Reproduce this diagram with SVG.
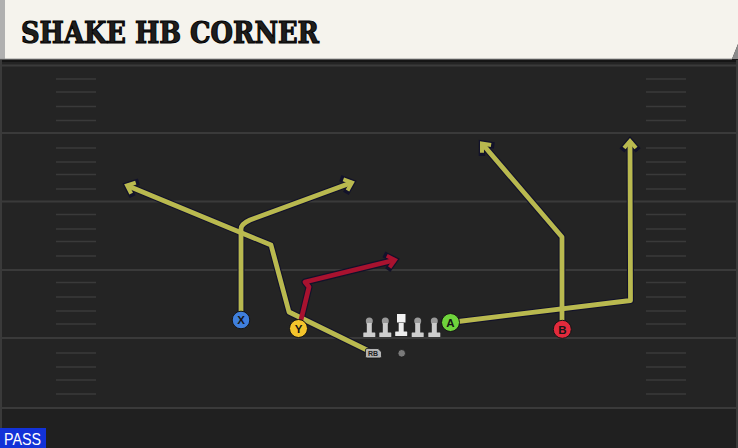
<svg xmlns="http://www.w3.org/2000/svg" width="738" height="448" viewBox="0 0 738 448">
<defs>
<style>
.yard{stroke:#3a3a3a;stroke-width:2}
.hash{stroke:#3a3a3a;stroke-width:1.5}
.rout{fill:none;stroke:#12122a;stroke-width:7;stroke-linejoin:round;stroke-linecap:butt}
.olive{fill:none;stroke:#b9b94f;stroke-width:4.8;stroke-linejoin:round;stroke-linecap:butt}
.red{fill:none;stroke:#a8122f;stroke-width:4.8;stroke-linejoin:round;stroke-linecap:butt}
.lbl{font-family:"Liberation Sans",Arial,sans-serif;font-weight:bold;font-size:11.5px;fill:#151515;text-anchor:middle}
.ol{stroke:#151515;stroke-width:1}
.lm{fill:#cdcdcd}
.head{fill:#9a9a9a}
</style>
<marker id="ahO" markerUnits="userSpaceOnUse" orient="auto" markerWidth="24" markerHeight="24" refX="0" refY="0" viewBox="-12 -12 24 24" overflow="visible">
<path d="M-7,-6 L0,0 L-7,6" fill="none" stroke="#12122a" stroke-width="6.5" stroke-linejoin="miter" stroke-linecap="square"/>
</marker>
<marker id="ahY" markerUnits="userSpaceOnUse" orient="auto" markerWidth="24" markerHeight="24" refX="0" refY="0" viewBox="-12 -12 24 24" overflow="visible">
<path d="M-7,-6 L0,0 L-7,6" fill="none" stroke="#b9b94f" stroke-width="4" stroke-linejoin="miter" stroke-linecap="butt"/>
</marker>
<marker id="ahR" markerUnits="userSpaceOnUse" orient="auto" markerWidth="24" markerHeight="24" refX="0" refY="0" viewBox="-12 -12 24 24" overflow="visible">
<path d="M-7,-6 L0,0 L-7,6" fill="none" stroke="#a8122f" stroke-width="4" stroke-linejoin="miter" stroke-linecap="butt"/>
</marker>
<g id="lineman">
<circle cx="0" cy="-1" r="3.5" class="head"/>
<rect x="-2.5" y="1" width="5" height="10" class="lm"/>
<rect x="-6" y="10.5" width="12" height="4.5" rx="0.5" class="lm"/>
</g>
</defs>

<!-- field -->
<rect x="0" y="0" width="738" height="448" fill="#242424"/>
<rect x="0" y="408" width="738" height="40" fill="#202020"/>
<rect x="0" y="59" width="738" height="3" fill="#151515"/>
<line x1="1" y1="60" x2="1" y2="448" stroke="#3a3a3a" stroke-width="2"/>
<line x1="737" y1="60" x2="737" y2="448" stroke="#3a3a3a" stroke-width="2"/>

<g id="yardlines">
<line class="yard" x1="0" y1="65.5" x2="738" y2="65.5"/>
<line class="yard" x1="0" y1="133" x2="738" y2="133"/>
<line class="yard" x1="0" y1="201.5" x2="738" y2="201.5"/>
<line class="yard" x1="0" y1="270" x2="738" y2="270"/>
<line class="yard" x1="0" y1="338" x2="738" y2="338"/>
<line class="yard" x1="0" y1="408" x2="738" y2="408"/>
</g>
<g id="hashes-left">
<line class="hash" x1="56" x2="96" y1="79" y2="79"/>
<line class="hash" x1="56" x2="96" y1="92" y2="92"/>
<line class="hash" x1="56" x2="96" y1="106.5" y2="106.5"/>
<line class="hash" x1="56" x2="96" y1="120.5" y2="120.5"/>
<line class="hash" x1="56" x2="96" y1="148" y2="148"/>
<line class="hash" x1="56" x2="96" y1="162" y2="162"/>
<line class="hash" x1="56" x2="96" y1="174.5" y2="174.5"/>
<line class="hash" x1="56" x2="96" y1="189" y2="189"/>
<line class="hash" x1="56" x2="96" y1="214.5" y2="214.5"/>
<line class="hash" x1="56" x2="96" y1="229" y2="229"/>
<line class="hash" x1="56" x2="96" y1="241.5" y2="241.5"/>
<line class="hash" x1="56" x2="96" y1="256" y2="256"/>
<line class="hash" x1="56" x2="96" y1="282.5" y2="282.5"/>
<line class="hash" x1="56" x2="96" y1="297" y2="297"/>
<line class="hash" x1="56" x2="96" y1="311" y2="311"/>
<line class="hash" x1="56" x2="96" y1="324" y2="324"/>
<line class="hash" x1="56" x2="96" y1="353" y2="353"/>
<line class="hash" x1="56" x2="96" y1="367" y2="367"/>
<line class="hash" x1="56" x2="96" y1="380" y2="380"/>
<line class="hash" x1="56" x2="96" y1="394" y2="394"/>
</g>
<g id="hashes-right">
<line class="hash" x1="646" x2="686" y1="79" y2="79"/>
<line class="hash" x1="646" x2="686" y1="92" y2="92"/>
<line class="hash" x1="646" x2="686" y1="106.5" y2="106.5"/>
<line class="hash" x1="646" x2="686" y1="120.5" y2="120.5"/>
<line class="hash" x1="646" x2="686" y1="148" y2="148"/>
<line class="hash" x1="646" x2="686" y1="162" y2="162"/>
<line class="hash" x1="646" x2="686" y1="174.5" y2="174.5"/>
<line class="hash" x1="646" x2="686" y1="189" y2="189"/>
<line class="hash" x1="646" x2="686" y1="214.5" y2="214.5"/>
<line class="hash" x1="646" x2="686" y1="229" y2="229"/>
<line class="hash" x1="646" x2="686" y1="241.5" y2="241.5"/>
<line class="hash" x1="646" x2="686" y1="256" y2="256"/>
<line class="hash" x1="646" x2="686" y1="282.5" y2="282.5"/>
<line class="hash" x1="646" x2="686" y1="297" y2="297"/>
<line class="hash" x1="646" x2="686" y1="311" y2="311"/>
<line class="hash" x1="646" x2="686" y1="324" y2="324"/>
<line class="hash" x1="646" x2="686" y1="353" y2="353"/>
<line class="hash" x1="646" x2="686" y1="367" y2="367"/>
<line class="hash" x1="646" x2="686" y1="380" y2="380"/>
<line class="hash" x1="646" x2="686" y1="394" y2="394"/>
</g>

<!-- header -->
<g id="header">
<polygon points="0,0 738,0 738,44 732,59 0,59" fill="#f5f3ed"/>
<polygon points="738,44 738,59 732,59" fill="#8a8a8a"/>
<rect x="0" y="0" width="5" height="59" fill="#b0b0b0"/>
<line x1="0" y1="59" x2="732" y2="59" stroke="#9a9a9a" stroke-width="1"/>
<text x="21" y="43" font-family="'DejaVu Serif Condensed','DejaVu Serif',serif" font-weight="bold" font-size="29" fill="#1e1e1e" stroke="#000" stroke-width="1" textLength="298" lengthAdjust="spacingAndGlyphs">SHAKE HB CORNER</text>
</g>

<!-- connectors / routes -->
<g id="routes">
<path class="rout" marker-end="url(#ahO)" d="M241,320 L241,229 Q241,224 250,220 L352,182.5"/>
<path class="rout" marker-end="url(#ahO)" d="M373,353 L289,312 L271,245 L127,185.5"/>
<path class="rout" marker-end="url(#ahO)" d="M450,322.5 L630.5,300.5 L630,141"/>
<path class="rout" marker-end="url(#ahO)" d="M562,329 L562,237 L482,143.5"/>
<path class="rout" marker-end="url(#ahO)" d="M299,328 L309,287 L305,282 L395,260"/>
<path class="olive" marker-end="url(#ahY)" d="M241,320 L241,229 Q241,224 250,220 L352,182.5"/>
<path class="olive" marker-end="url(#ahY)" d="M373,353 L289,312 L271,245 L127,185.5"/>
<path class="olive" marker-end="url(#ahY)" d="M450,322.5 L630.5,300.5 L630,141"/>
<path class="olive" marker-end="url(#ahY)" d="M562,329 L562,237 L482,143.5"/>
<path class="red" marker-end="url(#ahR)" d="M299,328 L309,287 L305,282 L395,260"/>
</g>

<!-- players -->
<g id="player-X">
<circle cx="241" cy="320" r="8.8" fill="#3f7fdc" class="ol"/>
<text x="241" y="324.2" class="lbl">X</text>
</g>
<g id="player-Y">
<circle cx="298.5" cy="328.5" r="9" fill="#f3c42c" class="ol"/>
<text x="298.5" y="332.7" class="lbl">Y</text>
</g>
<g id="lt"><use href="#lineman" x="369.3" y="322"/></g>
<g id="lg"><use href="#lineman" x="385.3" y="322"/></g>
<g id="center">
<rect x="397" y="314" width="8.5" height="8.5" fill="#f2f2f2"/>
<rect x="398.7" y="323" width="5" height="9" fill="#ececec"/>
<rect x="395.2" y="331.5" width="12" height="4.5" rx="0.5" fill="#ececec"/>
</g>
<g id="rg"><use href="#lineman" x="417.7" y="322"/></g>
<g id="rt"><use href="#lineman" x="434.3" y="322"/></g>
<g id="player-A">
<circle cx="450.5" cy="322.5" r="9" fill="#6fd43c" class="ol"/>
<text x="450.5" y="326.7" class="lbl">A</text>
</g>
<g id="player-B">
<circle cx="562.3" cy="329.3" r="9" fill="#e22a3c" class="ol"/>
<text x="562.3" y="333.5" class="lbl">B</text>
</g>
<g id="player-RB">
<path d="M365.5,350 Q365.5,348.5 367,348.5 L378,348.5 L381.5,352 L381.5,356.5 Q381.5,358 380,358 L367,358 Q365.5,358 365.5,356.5 Z" fill="#b4b4b4" stroke="#151515" stroke-width="0.8"/>
<text x="373" y="356.2" font-family="'Liberation Sans',Arial,sans-serif" font-weight="bold" font-size="7" fill="#202020" text-anchor="middle">RB</text>
</g>
<g id="ball">
<circle cx="401.7" cy="353.3" r="3.8" fill="#7a7a7a" stroke="#1a1a1a" stroke-width="0.8"/>
</g>

<!-- play type tag -->
<g id="pass-tag">
<rect x="0" y="428" width="46" height="20" fill="#1232d8"/>
<text x="4" y="445" font-family="'Liberation Sans',Arial,sans-serif" font-size="16" fill="#ffffff" textLength="37" lengthAdjust="spacingAndGlyphs">PASS</text>
</g>
</svg>
